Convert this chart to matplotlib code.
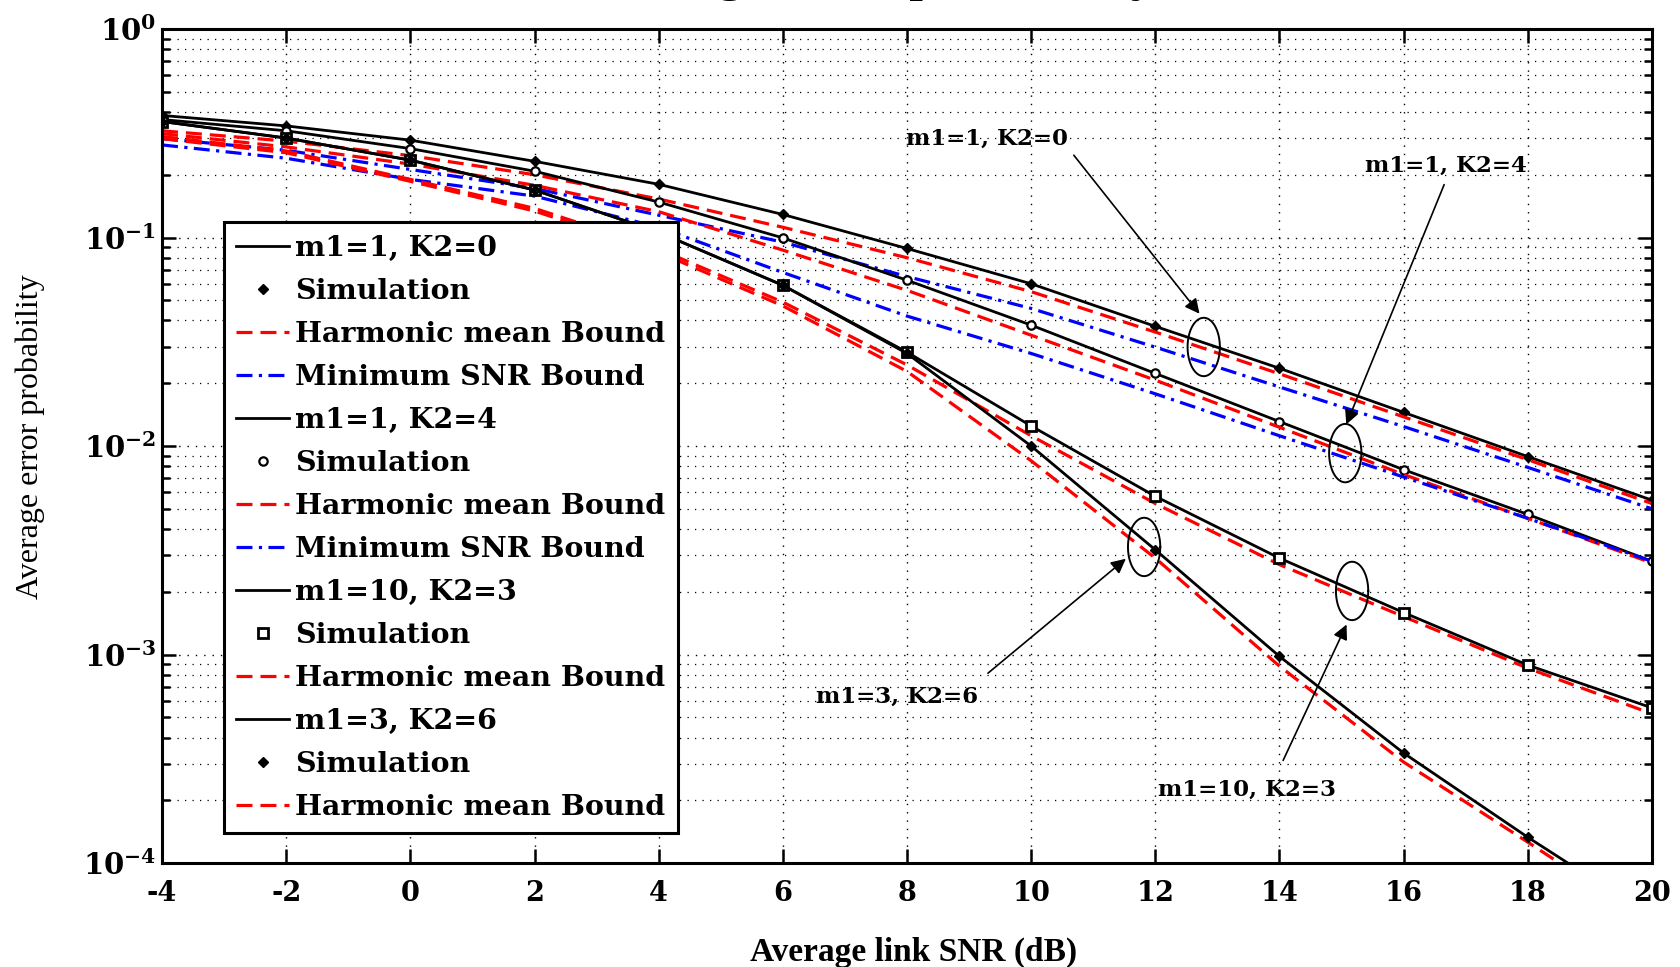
import numpy as np
import matplotlib
matplotlib.use('Agg')
from matplotlib import pyplot as plt

plt.rcParams['mathtext.fontset'] = 'dejavuserif'

snr = [-4, -2, 0, 2, 4, 6, 8, 10, 12, 14, 16, 18, 20]

# m1=1, K2=0
sim_k0 = [0.385, 0.343, 0.293, 0.232, 0.180, 0.129, 0.0886, 0.060, 0.0375, 0.0236, 0.0145, 0.0089, 0.0055]
hm_k0 = [0.325, 0.290, 0.247, 0.200, 0.153, 0.112, 0.080, 0.055, 0.0352, 0.0222, 0.0138, 0.0086, 0.0053]
min_k0 = [0.298, 0.262, 0.212, 0.172, 0.128, 0.095, 0.065, 0.0457, 0.0298, 0.0192, 0.0124, 0.0079, 0.0050]

# m1=1, K2=4
sim_k4 = [0.368, 0.325, 0.267, 0.208, 0.148, 0.0996, 0.0624, 0.038, 0.0223, 0.0131, 0.0077, 0.0047, 0.0028]
hm_k4 = [0.315, 0.272, 0.225, 0.178, 0.133, 0.087, 0.0558, 0.034, 0.0207, 0.0123, 0.0073, 0.0045, 0.00275]
min_k4 = [0.278, 0.240, 0.190, 0.158, 0.112, 0.068, 0.042, 0.0278, 0.0178, 0.0112, 0.0071, 0.0045, 0.0028]

# m1=10, K2=3
sim_m10 = [0.360, 0.300, 0.235, 0.169, 0.106, 0.059, 0.0282, 0.01248, 0.00574, 0.0029, 0.00159, 0.00089, 0.000555]
hm_m10 = [0.305, 0.260, 0.190, 0.138, 0.088, 0.049, 0.0245, 0.0112, 0.0053, 0.0027, 0.00152, 0.00086, 0.00052]

# m1=3, K2=6
sim_m3 = [0.360, 0.300, 0.235, 0.169, 0.106, 0.059, 0.0278, 0.0100, 0.00318, 0.00098, 0.000337, 0.000133, 0.000055]
hm_m3 = [0.298, 0.255, 0.186, 0.134, 0.085, 0.047, 0.0228, 0.0085, 0.0029, 0.00088, 0.000305, 0.000126, 0.000051]

yticks = [1e-4, 1e-3, 1e-2, 1e-1, 1e0]
ytick_labels = [r'$\mathbf{10^{-4}}$', r'$\mathbf{10^{-3}}$', r'$\mathbf{10^{-2}}$',
                r'$\mathbf{10^{-1}}$', r'$\mathbf{10^{0}}$']

# annotation: text, text pos (x, log10 y), arrow start, arrow tip, ellipse centre
annots = [
    ('m1=1, K2=0', (9.29, -0.528), (10.66, -0.595), (12.74, -1.376), (12.78, -1.525)),
    ('m1=1, K2=4', (16.68, -0.657), (16.67, -0.734), (15.06, -1.909), (15.06, -2.034)),
    ('m1=3, K2=6', (7.84, -3.204), (9.27, -3.098), (11.56, -2.532), (11.82, -2.484)),
    ('m1=10, K2=3', (13.48, -3.650), (14.04, -3.520), (15.10, -2.844), (15.17, -2.695)),
]

fig = plt.figure(figsize=(16.81, 9.67), dpi=100)
ax = fig.add_axes([0.0964, 0.1075, 0.8863, 0.8625])

red_dash = (0, (5, 2.5))
blue_dd = (0, (5, 2, 1, 2))
lw_k, lw_c = 2.0, 2.3

l_k0, = ax.plot(snr, sim_k0, 'k-', lw=lw_k)
m_k0, = ax.plot(snr, sim_k0, 'kD', ms=5, ls='none')
r_k0, = ax.plot(snr, hm_k0, color='red', ls=red_dash, lw=lw_c)
b_k0, = ax.plot(snr, min_k0, color='blue', ls=blue_dd, lw=lw_c)

l_k4, = ax.plot(snr, sim_k4, 'k-', lw=lw_k)
m_k4, = ax.plot(snr, sim_k4, 'ko', ms=6, mfc='white', mew=1.6, ls='none')
r_k4, = ax.plot(snr, hm_k4, color='red', ls=red_dash, lw=lw_c)
b_k4, = ax.plot(snr, min_k4, color='blue', ls=blue_dd, lw=lw_c)

r_m10, = ax.plot(snr, hm_m10, color='red', ls=red_dash, lw=lw_c)
r_m3, = ax.plot(snr, hm_m3, color='red', ls=red_dash, lw=lw_c)
l_m10, = ax.plot(snr, sim_m10, 'k-', lw=lw_k)
m_m10, = ax.plot(snr, sim_m10, 'ks', ms=7, mfc='white', mew=2, ls='none')
l_m3, = ax.plot(snr, sim_m3, 'k-', lw=lw_k)
m_m3, = ax.plot(snr, sim_m3, 'kD', ms=5, ls='none')

ax.set_yscale('log')
ax.set_xlim(-4, 20)
ax.set_ylim(1e-4, 1e0)
ax.set_xticks(snr)
ax.set_xticklabels([str(v) for v in snr])
ax.set_yticks(yticks)
ax.set_yticklabels(ytick_labels)

for lab in ax.get_xticklabels():
    lab.set_family('DejaVu Serif')
    lab.set_weight('bold')
    lab.set_fontsize(19.5)
for lab in ax.get_yticklabels():
    lab.set_fontsize(21)

ax.tick_params(which='both', direction='in', top=True, right=True, width=1.8)
ax.tick_params(which='major', length=10, pad=12)
ax.tick_params(which='minor', length=6)
ax.tick_params(axis='y', which='major', pad=4)
for s in ax.spines.values():
    s.set_linewidth(2.2)

ax.grid(True, which='major', ls=(0, (1, 5)), color='k', lw=1.0)
ax.grid(True, which='minor', axis='y', ls=(0, (1, 5)), color='k', lw=0.9)
ax.set_axisbelow(True)

# annotations with ellipses
t = np.linspace(0, 2 * np.pi, 120)
for txt, tpos, a0, a1, ec in annots:
    ax.plot(ec[0] + 0.26 * np.cos(t), 10 ** (ec[1] + 0.14 * np.sin(t)), 'k-', lw=1.4)
    ax.text(tpos[0], 10 ** tpos[1], txt, family='DejaVu Serif', weight='bold',
            fontsize=16.5, ha='center', va='center')
    ax.annotate('', xy=(a1[0], 10 ** a1[1]), xytext=(a0[0], 10 ** a0[1]),
                arrowprops=dict(arrowstyle='-|>', color='k', lw=1.2, mutation_scale=22))

handles = [l_k0, m_k0, r_k0, b_k0, l_k4, m_k4, r_k4, b_k4, l_m10, m_m10, r_m10, l_m3, m_m3, r_m3]
labels = ['m1=1, K2=0', 'Simulation', 'Harmonic mean Bound', 'Minimum SNR Bound',
          'm1=1, K2=4', 'Simulation', 'Harmonic mean Bound', 'Minimum SNR Bound',
          'm1=10, K2=3', 'Simulation', 'Harmonic mean Bound',
          'm1=3, K2=6', 'Simulation', 'Harmonic mean Bound']
leg = ax.legend(handles, labels, loc='upper left', bbox_to_anchor=(0.133, 0.770),
                bbox_transform=fig.transFigure, borderaxespad=0,
                prop=dict(family='DejaVu Serif', weight='bold', size=20.5),
                handlelength=1.85, handletextpad=0.2, labelspacing=0.56,
                borderpad=0.45, fancybox=False, framealpha=1, edgecolor='k')
leg.get_frame().set_linewidth(2.2)

fig.text(0.5437, 0.0155, 'Average link SNR (dB)', family='Liberation Serif', weight='bold',
         fontsize=24, ha='center', va='center')
fig.text(0.018, 0.548, 'Average error probability', family='Liberation Serif',
         fontsize=23, rotation=90, ha='center', va='center')
fig.text(0.5176, 1.0 + 11 / 967, 'Average error probability', family='Liberation Serif',
         fontsize=41, ha='center', va='baseline')

fig.savefig('out.png', dpi=100)
